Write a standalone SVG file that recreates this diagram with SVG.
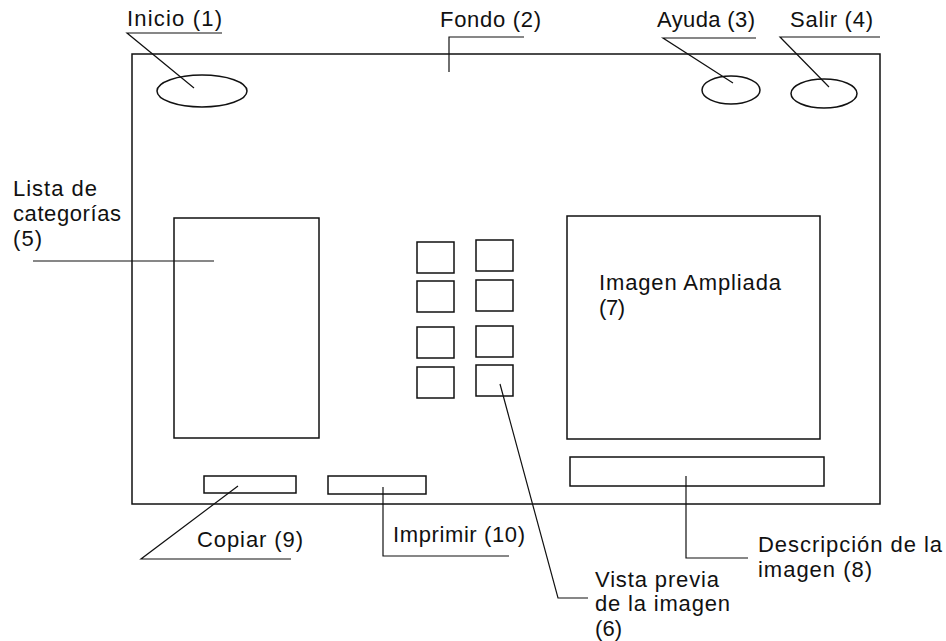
<svg xmlns="http://www.w3.org/2000/svg" width="946" height="641" viewBox="0 0 946 641">
<style>
.s{fill:none;stroke:#111;stroke-width:1.5}
.l{fill:none;stroke:#111;stroke-width:1.2}
text{font-family:"Liberation Sans",Arial,sans-serif;font-size:22px;fill:#111}
</style>
<rect width="946" height="641" fill="#fff"/>
<g id="fondo"><rect class="s" x="132" y="54" width="748" height="450"/><text x="440" y="27" textLength="101" lengthAdjust="spacing">Fondo (2)</text></g>
<g id="inicio"><ellipse class="s" cx="202" cy="91" rx="45" ry="16"/><text x="127" y="26" textLength="95" lengthAdjust="spacing">Inicio (1)</text></g>
<g id="ayuda"><ellipse class="s" cx="731" cy="90" rx="29" ry="14"/><text x="657" y="27" textLength="98" lengthAdjust="spacing">Ayuda (3)</text></g>
<g id="salir"><ellipse class="s" cx="824" cy="93.5" rx="33" ry="14.5"/><text x="790" y="27" textLength="83" lengthAdjust="spacing">Salir (4)</text></g>
<g id="lista"><rect class="s" x="174" y="218" width="145" height="220"/><text x="13" y="196" textLength="84" lengthAdjust="spacing">Lista de</text><text x="13" y="221" textLength="108" lengthAdjust="spacing">categorías</text><text x="13" y="246" textLength="29" lengthAdjust="spacing">(5)</text></g>
<g id="vista">
<rect class="s" x="417" y="242" width="37" height="31"/>
<rect class="s" x="417" y="281" width="37" height="31"/>
<rect class="s" x="417" y="327" width="37" height="31"/>
<rect class="s" x="417" y="367" width="37" height="31"/>
<rect class="s" x="476" y="240" width="37" height="31"/>
<rect class="s" x="476" y="280" width="37" height="31"/>
<rect class="s" x="476" y="326" width="37" height="31"/>
<rect class="s" x="476" y="365" width="37" height="31"/>
<text x="595" y="587" textLength="124" lengthAdjust="spacing">Vista previa</text><text x="595" y="611" textLength="135" lengthAdjust="spacing">de la imagen</text><text x="595" y="636" textLength="27" lengthAdjust="spacing">(6)</text></g>
<g id="imagen"><rect class="s" x="567" y="216" width="253" height="223"/><text x="599" y="290" textLength="182" lengthAdjust="spacing">Imagen Ampliada</text><text x="599" y="315" textLength="26" lengthAdjust="spacing">(7)</text></g>
<g id="descripcion"><rect class="s" x="570" y="457" width="254" height="29"/><text x="758" y="552" textLength="184" lengthAdjust="spacing">Descripción de la</text><text x="758" y="577" textLength="114" lengthAdjust="spacing">imagen (8)</text></g>
<g id="copiar"><rect class="s" x="204" y="476" width="92" height="17"/><text x="197" y="547" textLength="106" lengthAdjust="spacing">Copiar (9)</text></g>
<g id="imprimir"><rect class="s" x="328" y="476" width="98" height="18"/><text x="393" y="542" textLength="132" lengthAdjust="spacing">Imprimir (10)</text></g>
<g id="connectors">
<polyline class="l" points="222,33 127,33 194,88"/>
<polyline class="l" points="524,37 449,37 449,72"/>
<polyline class="l" points="756,38 663,38 733,83"/>
<polyline class="l" points="880,37 780,37 829,87"/>
<line class="l" x1="33" y1="261" x2="214" y2="261"/>
<polyline class="l" points="500,384 558,598 588,598"/>
<polyline class="l" points="686,476 686,558 748,558"/>
<polyline class="l" points="238,486 141,559 291,559"/>
<polyline class="l" points="383,487 383,556 509,556"/>
</g>
</svg>
